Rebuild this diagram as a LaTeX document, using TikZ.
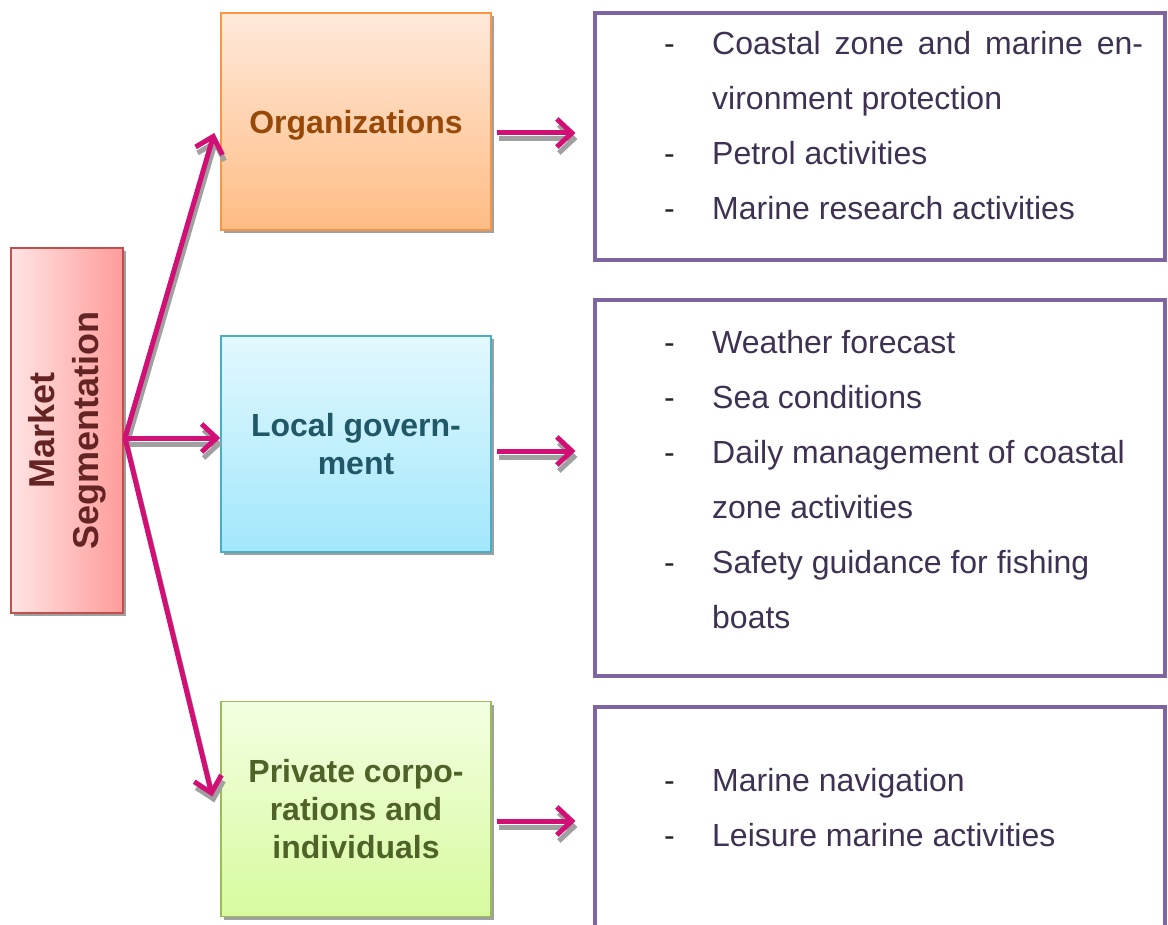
\documentclass[tikz,border=0pt]{standalone}
\usepackage{fontspec}
\setmainfont{Liberation Sans}
\usetikzlibrary{arrows.meta,positioning,shadows}

\definecolor{msleft}{HTML}{FFE4E4}
\definecolor{msright}{HTML}{FF9C9A}
\definecolor{msborder}{HTML}{C0504D}
\definecolor{mstext}{HTML}{632423}
\definecolor{orgtop}{HTML}{FFE9DA}
\definecolor{orgbottom}{HTML}{FFBC84}
\definecolor{orgborder}{HTML}{F79646}
\definecolor{orgtext}{HTML}{984807}
\definecolor{govtop}{HTML}{E2F8FE}
\definecolor{govbottom}{HTML}{A2E7FB}
\definecolor{govborder}{HTML}{4BACC6}
\definecolor{govtext}{HTML}{215868}
\definecolor{privtop}{HTML}{F3FFE2}
\definecolor{privbottom}{HTML}{D7FA9E}
\definecolor{privborder}{HTML}{9BBB59}
\definecolor{privtext}{HTML}{4F6228}
\definecolor{listpurple}{HTML}{8064A2}
\definecolor{listtext}{HTML}{3F3151}
\definecolor{arrowpink}{HTML}{D20F75}
\definecolor{arrowshadow}{HTML}{A0A0A0}

\tikzstyle{segbox} = [rectangle, inner sep=0pt, line width=1.5pt, align=center, font=\bfseries\fontsize{32}{38}\selectfont, drop shadow={shadow xshift=3pt, shadow yshift=-3pt, fill=arrowshadow, opacity=1}]
\tikzstyle{listbox} = [rectangle, draw=listpurple, line width=4pt, minimum width=570pt, inner sep=0pt]
\tikzstyle{listtext} = [anchor=base west, inner sep=0pt, text=listtext, font=\fontsize{32}{55}\selectfont]
\tikzstyle{arrow} = [-{Straight Barb[length=15pt,width=28pt]}, line width=5pt]
\newcommand{\itemdash}{\textcolor{black!85}{-}}

\begin{document}
\begin{tikzpicture}[x=1pt, y=-1pt]
  \useasboundingbox (0,0) rectangle (1168,925);

  % segments
  \node[segbox, rotate=90, minimum width=365pt, minimum height=112pt, draw=msborder, left color=msleft, right color=msright, text=mstext, font=\bfseries\fontsize{36}{44}\selectfont](ms) at (67,430.5){Market\\Segmentation};
  \node[segbox, minimum width=270pt, minimum height=217pt, text depth=0pt, draw=orgborder, top color=orgtop, bottom color=orgbottom, text=orgtext](org) at (356,121.5){Organizations};
  \node[segbox, minimum width=270pt, minimum height=216pt, draw=govborder, top color=govtop, bottom color=govbottom, text=govtext](lgov) at (356,444){Local govern-\\ment};
  \node[segbox, minimum width=270pt, minimum height=215pt, draw=privborder, top color=privtop, bottom color=privbottom, text=privtext, below=148pt of lgov](priv){Private corpo-\\rations and\\individuals};

  % lists
  \node[listbox, minimum height=247pt](orglist) at (879.5,136.5){};
  \node[listbox, minimum height=376pt](lgovlist) at (879.5,488){};
  \node[listbox, minimum height=250pt](privlist) at (879.5,832){};

  \node[listtext](orgitems) at (664,54.5){\begin{tabular}[t]{@{}p{48pt}@{}l@{}}
    \itemdash & \makebox[431pt][s]{Coastal zone and marine en-}\\
    & vironment protection\\
    \itemdash & Petrol activities\\
    \itemdash & Marine research activities
  \end{tabular}};
  \node[listtext](lgovitems) at (664,353.5){\begin{tabular}[t]{@{}p{48pt}@{}l@{}}
    \itemdash & Weather forecast\\
    \itemdash & Sea conditions\\
    \itemdash & Daily management of coastal\\
    & zone activities\\
    \itemdash & Safety guidance for fishing\\
    & boats
  \end{tabular}};
  \node[listtext](privitems) at (664,791.5){\begin{tabular}[t]{@{}p{48pt}@{}l@{}}
    \itemdash & Marine navigation\\
    \itemdash & Leisure marine activities
  \end{tabular}};

  % arrows, shadow first
  \coordinate (hub) at (125,438);
  \coordinate (orgout) at (497,133);
  \coordinate (lgovout) at (497,451);
  \coordinate (privout) at (497,821);
  \foreach \col/\dx/\dy in {arrowshadow/2pt/-6pt, arrowpink/0pt/0pt}{
    \begin{scope}[transform canvas={xshift=\dx, yshift=\dy}]
      \draw[arrow, draw=\col](hub) -- ([shift={(-6,11.5)}]org.west);
      \draw[arrow, draw=\col](hub) -- (hub -| lgov.west);
      \draw[arrow, draw=\col](hub) -- ([shift={(-8,-12.5)}]priv.west);
      \draw[arrow, draw=\col, shorten >=17pt](orgout) -- (orgout -| orglist.west);
      \draw[arrow, draw=\col, shorten >=17pt](lgovout) -- (lgovout -| lgovlist.west);
      \draw[arrow, draw=\col, shorten >=17pt](privout) -- (privout -| privlist.west);
    \end{scope}
  }
\end{tikzpicture}
\end{document}
